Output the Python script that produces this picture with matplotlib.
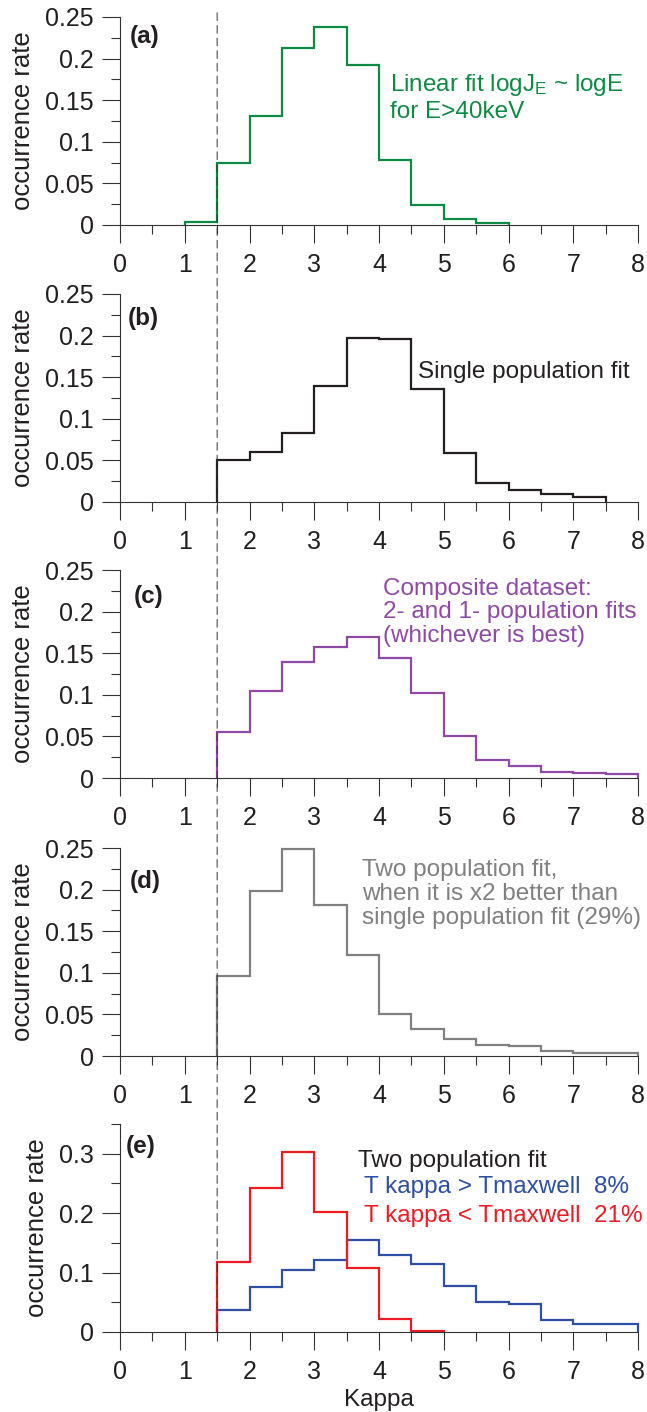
import matplotlib
matplotlib.use('Agg')
import matplotlib.pyplot as plt
from matplotlib.patches import ConnectionPatch
from matplotlib.ticker import MultipleLocator, FormatStrFormatter

plt.rcParams['font.family'] = ['Liberation Sans', 'DejaVu Sans']
plt.rcParams['mathtext.default'] = 'regular'

# --- histogram data (occurrence rate per kappa bin, bin width 0.5) ---
edges_a = [1.0, 1.5, 2.0, 2.5, 3.0, 3.5, 4.0, 4.5, 5.0, 5.5, 6.0]
rate_a = [0.004, 0.075, 0.131, 0.213, 0.238, 0.192, 0.078, 0.024, 0.007, 0.002]

edges_b = [1.5, 2.0, 2.5, 3.0, 3.5, 4.0, 4.5, 5.0, 5.5, 6.0, 6.5, 7.0, 7.5]
rate_b = [0.051, 0.060, 0.083, 0.139, 0.197, 0.196, 0.136, 0.059, 0.023, 0.014, 0.009, 0.006]

edges_c = [1.5, 2.0, 2.5, 3.0, 3.5, 4.0, 4.5, 5.0, 5.5, 6.0, 6.5, 7.0, 7.5, 8.0]
rate_c = [0.055, 0.104, 0.139, 0.157, 0.170, 0.144, 0.102, 0.051, 0.022, 0.014, 0.007, 0.0056, 0.0044]

edges_d = [1.5, 2.0, 2.5, 3.0, 3.5, 4.0, 4.5, 5.0, 5.5, 6.0, 6.5, 7.0, 7.5, 8.0]
rate_d = [0.096, 0.198, 0.249, 0.181, 0.121, 0.051, 0.032, 0.021, 0.013, 0.0125, 0.0056, 0.0036, 0.0036]

edges_e_red = [1.5, 2.0, 2.5, 3.0, 3.5, 4.0, 4.5, 5.0]
rate_e_red = [0.117, 0.242, 0.302, 0.201, 0.108, 0.022, 0.002]

edges_e_blue = [1.5, 2.0, 2.5, 3.0, 3.5, 4.0, 4.5, 5.0, 5.5, 6.0, 6.5, 7.0, 7.5, 8.0]
rate_e_blue = [0.037, 0.076, 0.105, 0.121, 0.154, 0.129, 0.115, 0.077, 0.050, 0.047, 0.020, 0.013, 0.013]

panel_labels = ['(a)', '(b)', '(c)', '(d)', '(e)']

GREEN = '#0e8a43'
BLACK = '#231f20'
PURPLE = '#8e4aa6'
GRAY = '#808080'
RED = '#ed1c24'
BLUE = '#2e4fa3'
AXIS = '#333333'


def style_axis(ax, ytop, ymajor, yminor):
    ax.set_xlim(0, 8)
    ax.set_ylim(0, ytop)
    for side in ['top', 'right']:
        ax.spines[side].set_visible(False)
    for side in ['left', 'bottom']:
        ax.spines[side].set_color(AXIS)
        ax.spines[side].set_linewidth(0.8)
    ax.xaxis.set_major_locator(MultipleLocator(1))
    ax.xaxis.set_minor_locator(MultipleLocator(0.5))
    ax.yaxis.set_major_locator(MultipleLocator(ymajor))
    ax.yaxis.set_minor_locator(MultipleLocator(yminor))
    ax.yaxis.set_major_formatter(FormatStrFormatter('%g'))
    ax.tick_params(which='major', direction='out', length=13, width=0.8,
                   color=AXIS, labelsize=18, labelcolor=BLACK)
    ax.tick_params(which='minor', direction='out', length=6.5, width=0.8, color=AXIS)
    ax.tick_params(axis='x', which='major', pad=7)
    ax.tick_params(axis='y', which='major', pad=6)
    ax.set_ylabel('occurrence rate', fontsize=18.5, color=BLACK, labelpad=7)
    ax.patch.set_alpha(0)


fig = plt.figure(figsize=(6.47, 14.12), dpi=100)

left, width, height = 0.1855, 0.8006, 0.1473
bottoms = [0.8407, 0.6445, 0.4490, 0.2521, 0.0567]
axes = [fig.add_axes([left, b, width, height]) for b in bottoms]
ax_a, ax_b, ax_c, ax_d, ax_e = axes

for ax in axes[:4]:
    style_axis(ax, 0.25, 0.05, 0.025)
style_axis(ax_e, 0.35, 0.1, 0.05)

# --- step histograms ---
ax_a.stairs(rate_a, edges_a, baseline=0, color=GREEN, linewidth=1.6, clip_on=False)
ax_b.stairs(rate_b, edges_b, baseline=0, color=BLACK, linewidth=1.6, clip_on=False)
ax_c.stairs(rate_c, edges_c, baseline=0, color=PURPLE, linewidth=1.6, clip_on=False)
ax_d.stairs(rate_d, edges_d, baseline=0, color=GRAY, linewidth=1.6, clip_on=False)
ax_e.stairs(rate_e_blue, edges_e_blue, baseline=0, color=BLUE, linewidth=1.6, clip_on=False)
ax_e.stairs(rate_e_red, edges_e_red, baseline=0, color=RED, linewidth=1.6, clip_on=False)

# --- panel labels ---
label_pos = [(0.155, 0.227), (0.12, 0.221), (0.21, 0.2186), (0.15, 0.21), (0.085, 0.312)]
for ax, lab, (x, y) in zip(axes, panel_labels, label_pos):
    ax.text(x, y, lab, fontsize=17.5, fontweight='bold', color=BLACK, ha='left', va='center')

# --- annotations ---
ax_a.text(4.17, 0.153, 'Linear fit logJ$_{E}$ ~ logE\nfor E>40keV', color=GREEN,
          fontsize=17.5, ha='left', va='center', linespacing=1.15)
ax_b.text(4.60, 0.156, 'Single population fit', color=BLACK, fontsize=17.5,
          ha='left', va='center')
ax_c.text(4.06, 0.199, 'Composite dataset:\n2- and 1- population fits\n(whichever is best)',
          color=PURPLE, fontsize=17.5, ha='left', va='center', linespacing=1.1)
ax_d.text(3.74, 0.195, 'Two population fit,\nwhen it is x2 better than\nsingle population fit (29%)',
          color=GRAY, fontsize=17.5, ha='left', va='center', linespacing=1.1)
ax_e.text(3.68, 0.288, 'Two population fit', color=BLACK, fontsize=17.5, ha='left', va='center')
ax_e.text(3.77, 0.244, 'T kappa > Tmaxwell  8%', color=BLUE, fontsize=17.5, ha='left', va='center')
ax_e.text(3.77, 0.195, 'T kappa < Tmaxwell  21%', color=RED, fontsize=17.5, ha='left', va='center')

ax_e.set_xlabel('Kappa', fontsize=17.5, color=BLACK, labelpad=4)

# --- dashed kappa = 1.5 line through all panels ---
dash = ConnectionPatch(xyA=(1.5, 0.255), coordsA=ax_a.transData,
                       xyB=(1.5, 0.0), coordsB=ax_e.transData,
                       color='#333333', linewidth=0.7, linestyle=(0, (8, 5)))
fig.add_artist(dash)

fig.savefig('out.png', dpi=100)
